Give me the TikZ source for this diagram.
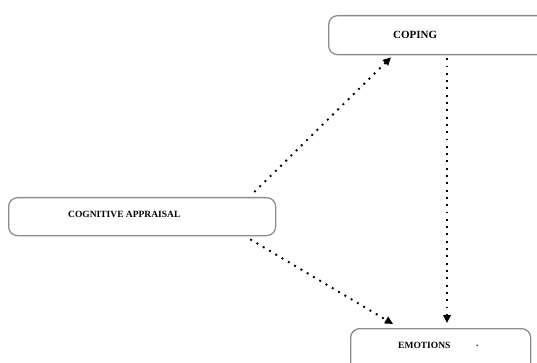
\documentclass[tikz,border=0pt]{standalone}
\usepackage{fontspec}
\setmainfont{Liberation Serif}
\usetikzlibrary{arrows.meta,positioning}
\tikzstyle{boxstyle}=[draw=black!45, line width=1.3pt, rounded corners=9pt,
  anchor=north west, inner sep=0pt]
\tikzstyle{caption}=[font=\fontsize{9.5}{11}\selectfont\bfseries, inner sep=0pt, anchor=west]
\tikzstyle{line}=[draw, line width=1.9pt, dash pattern=on 1.9pt off 5.4pt,
  -{Triangle[length=8pt,width=7.5pt]}]
\newcommand{\stage}[4]{node (#1) [boxstyle, minimum width=#2, minimum height=#3] {#4}}

\begin{document}
\begin{tikzpicture}[x=1pt,y=-1pt]
\useasboundingbox (0,0) rectangle (537,363);
% Draw boxes
\path (8,197)   \stage{appraisal}{267pt}{38pt}{};
\path (328,15)  \stage{coping}{230pt}{39pt}{};
\path (350,328) \stage{emotions}{180pt}{50pt}{};

% Box captions
\node (tappraisal) [caption] at (68,214) {COGNITIVE APPRAISAL};
\node (tcoping) [caption, font=\fontsize{11}{13}\selectfont\bfseries] at (393,35) {COPING};
\node (temotions) [caption] at (398,345) {EMOTIONS};
\node (tdot) [caption] at (476,346) {.};

% Draw arrows between boxes
\path [line] ([xshift=-22pt,yshift=5pt]appraisal.north east) -- ([xshift=63pt,yshift=-2pt]coping.south west);
\path [line] ([xshift=-26pt,yshift=-3pt]appraisal.south east) -- ([xshift=43pt,yshift=4pt]emotions.north west);
\path [line] ([xshift=119pt,yshift=-3pt]coping.south west) -- ([xshift=97pt,yshift=5pt]emotions.north west);
\end{tikzpicture}
\end{document}
